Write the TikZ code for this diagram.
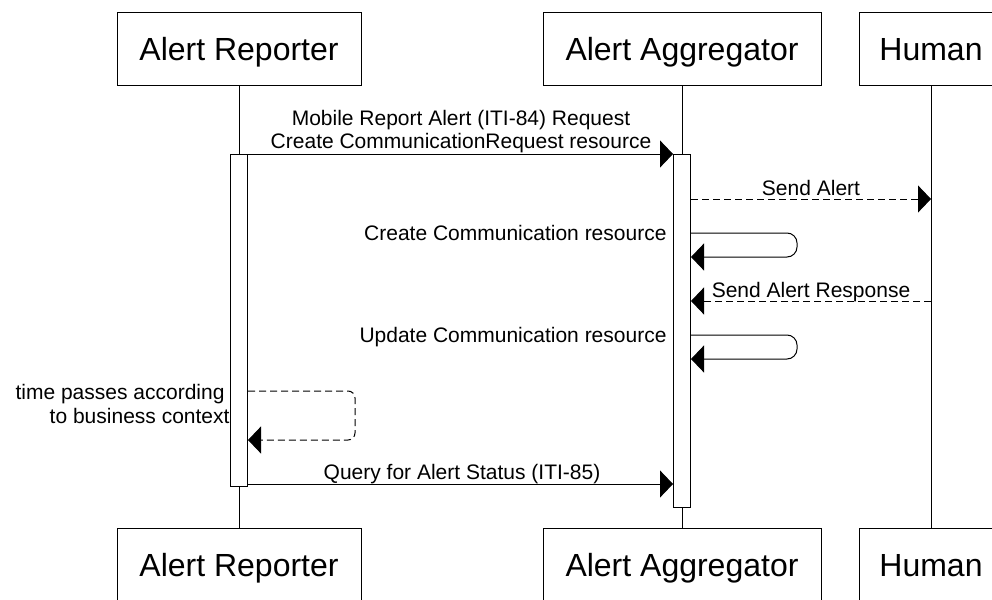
\documentclass[tikz,border=0pt]{standalone}
\usepackage{fontspec}
\setmainfont{Liberation Sans}
\usetikzlibrary{arrows.meta}
\begin{document}
\begin{tikzpicture}[x=1pt, y=-1pt, line width=1pt,
  actor/.style={draw, fill=white, minimum width=#1, minimum height=73pt,
    inner sep=0pt, text height=23pt, text depth=0pt,
    font=\fontsize{32}{38}\selectfont},
  actbar/.style={draw, fill=white, minimum width=17pt, inner sep=0pt},
  msg/.style={-{Triangle[length=13pt, width=27pt]}},
  reply/.style={msg, dash pattern=on 7pt off 4pt},
  lbl/.style={font=\fontsize{21}{24}\selectfont, inner sep=0pt},
]
\useasboundingbox (0,0) rectangle (992,599);

% participants, top and bottom
\node[actor=244pt] (rt) at (239,49.5) {Alert Reporter};
\node[actor=278pt] (at) at (682,49.5) {Alert Aggregator};
\node[actor=144pt] (ht) at (931,49.5) {Human};
\node[actor=244pt] (rbot) at (239,564.5) {Alert Reporter};
\node[actor=278pt] (abot) at (682,564.5) {Alert Aggregator};
\node[actor=144pt] (hbot) at (931,564.5) {Human};

% lifelines
\draw (rt) -- (rbot);
\draw (at) -- (abot);
\draw (ht) -- (hbot);

% activation bars
\node[actbar, minimum height=332pt] (rb) at (239,320) {};
\node[actbar, minimum height=353pt] (ab) at (682,330.5) {};

% message levels
\coordinate (y1) at (0,154);
\coordinate (y2) at (0,199);
\coordinate (y3a) at (0,233);
\coordinate (y3b) at (0,257);
\coordinate (y4) at (0,301);
\coordinate (y5a) at (0,335);
\coordinate (y5b) at (0,359);
\coordinate (y6a) at (0,391);
\coordinate (y6b) at (0,440);
\coordinate (y7) at (0,484);

% Mobile Report Alert
\draw[msg] (rb.east |- y1) -- (ab.west |- y1);
\node[lbl, anchor=base] (l1a) at (461,125) {Mobile Report Alert (ITI-84) Request};
\node[lbl, anchor=base] (l1b) at (461,148) {Create CommunicationRequest resource};

% Send Alert
\draw[reply] (ab.east |- y2) -- (ht.south |- y2);
\node[lbl, anchor=base] (l2) at (811,195) {Send Alert};

% Create Communication resource
\draw[msg, rounded corners=10pt] (ab.east |- y3a) -- (797,233) -- (797,257) -- (ab.east |- y3b);
\node[lbl, anchor=base east] (l3) at (667,240) {Create Communication resource};

% Send Alert Response
\draw[reply] (ht.south |- y4) -- (ab.east |- y4);
\node[lbl, anchor=base] (l4) at (811,297) {Send Alert Response};

% Update Communication resource
\draw[msg, rounded corners=10pt] (ab.east |- y5a) -- (797,335) -- (797,359) -- (ab.east |- y5b);
\node[lbl, anchor=base east] (l5) at (667,342) {Update Communication resource};

% waiting period
\draw[reply, rounded corners=7pt] (rb.east |- y6a) -- (355,391) -- (355,440) -- (rb.east |- y6b);
\node[lbl, anchor=base east] (l6a) at (225,399) {time passes according};
\node[lbl, anchor=base east] (l6b) at (230,423) {to business context};

% Query for Alert Status
\draw[msg] (rb.east |- y7) -- (ab.west |- y7);
\node[lbl, anchor=base] (l7) at (462,479) {Query for Alert Status (ITI-85)};
\end{tikzpicture}
\end{document}
